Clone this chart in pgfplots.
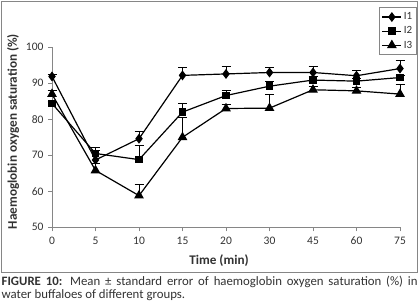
\documentclass[border=0pt]{standalone}
\usepackage{fontspec}
\setmainfont{Carlito}
\usepackage{pgfplots}
\pgfplotsset{compat=1.18}
\definecolor{axgray}{RGB}{134,134,134}
\definecolor{txtgray}{RGB}{50,50,50}
\begin{document}
\begin{tikzpicture}
\useasboundingbox (0pt,0pt) rectangle (419pt,307pt);
\draw[axgray,line width=1.1pt] (1.2pt,34.5pt) rectangle (417.8pt,305.8pt);
\begin{axis}[
  at={(52pt,79.7pt)}, anchor=south west,
  scale only axis, width=348pt, height=180pt,
  xmin=0, xmax=8, ymin=50, ymax=100,
  clip=false,
  axis x line=bottom, axis y line=left,
  axis line style={-, axgray, line width=0.8pt},
  xtick={0,...,8},
  xticklabels={0,5,10,15,20,30,45,60,75},
  ytick={50,60,...,100},
  tick align=outside, major tick length=4pt,
  tick style={axgray, line width=0.8pt},
  /pgf/number format/assume math mode=true,
  ticklabel style={font=\fontsize{11.5}{13}\selectfont, text=txtgray},
  xticklabel style={yshift=-2pt},
  yticklabel style={xshift=-1pt},
  xlabel={\textbf{Time (min)}},
  ylabel={\textbf{Haemoglobin oxygen saturation (\%)}},
  label style={font=\fontsize{13.2}{15}\selectfont, text=txtgray},
  xlabel style={at={(axis description cs:0.48,-0.187)}, anchor=center},
  ylabel style={at={(axis description cs:-0.112,0.532)}, anchor=center},
  legend style={at={(axis description cs:1.048,1.222)}, anchor=north east,
    draw=axgray, line width=0.8pt, font=\fontsize{11}{12}\selectfont,
    text=txtgray, row sep=1.5pt, inner xsep=2pt, inner ysep=3pt,
    cells={anchor=west}},
  legend image code/.code={\draw[mark repeat=2,mark phase=2,#1] plot coordinates {(0pt,0pt) (9.5pt,0pt) (19pt,0pt)};},
  error bars/y dir=plus, error bars/y explicit,
  error bars/error mark options={rotate=90, mark size=4.5pt, line width=1pt, black},
  error bars/error bar style={line width=1pt, black},
]
\addplot[black, line width=1.2pt, mark=diamond*, mark size=4pt, mark options={solid, fill=black}]
  coordinates {
  (0,91.9) +- (0,0.6)
  (1,68.7) +- (0,2.6)
  (2,74.6) +- (0,2.0)
  (3,92.2) +- (0,2.1)
  (4,92.6) +- (0,2.0)
  (5,93.0) +- (0,1.4)
  (6,93.0) +- (0,1.7)
  (7,92.1) +- (0,1.5)
  (8,94.1) +- (0,2.1)
  };
\addlegendentry{I1}
\addplot[black, line width=1.2pt, mark=square*, mark size=3.2pt, mark options={solid, fill=black}]
  coordinates {
  (0,84.4) +- (0,0.5)
  (1,70.5) +- (0,1.7)
  (2,68.8) +- (0,3.8)
  (3,82.0) +- (0,2.5)
  (4,86.6) +- (0,1.5)
  (5,89.2) +- (0,1.3)
  (6,90.9) +- (0,1.0)
  (7,90.6) +- (0,0.8)
  (8,91.6) +- (0,0.5)
  };
\addlegendentry{I2}
\addplot[black, line width=1.2pt, mark=triangle*, mark size=4.5pt, mark options={solid, fill=black}]
  coordinates {
  (0,87.0) +- (0,1.1)
  (1,65.8) +- (0,1.8)
  (2,58.8) +- (0,3.0)
  (3,75.0) +- (0,5.6)
  (4,83.0) +- (0,1.0)
  (5,83.1) +- (0,3.9)
  (6,88.2) +- (0,0.8)
  (7,87.9) +- (0,1.0)
  (8,87.0) +- (0,2.6)
  };
\addlegendentry{I3}
\end{axis}
\node[anchor=north west, text width=416pt, align=justify, inner sep=0pt,
  font=\fontsize{12.8}{13}\selectfont, text=txtgray] at (1.5pt,31pt)
  {\textbf{FIGURE 10:} Mean ± standard error of haemoglobin oxygen saturation (\%) in\linebreak water buffaloes of different groups.};
\end{tikzpicture}
\end{document}
